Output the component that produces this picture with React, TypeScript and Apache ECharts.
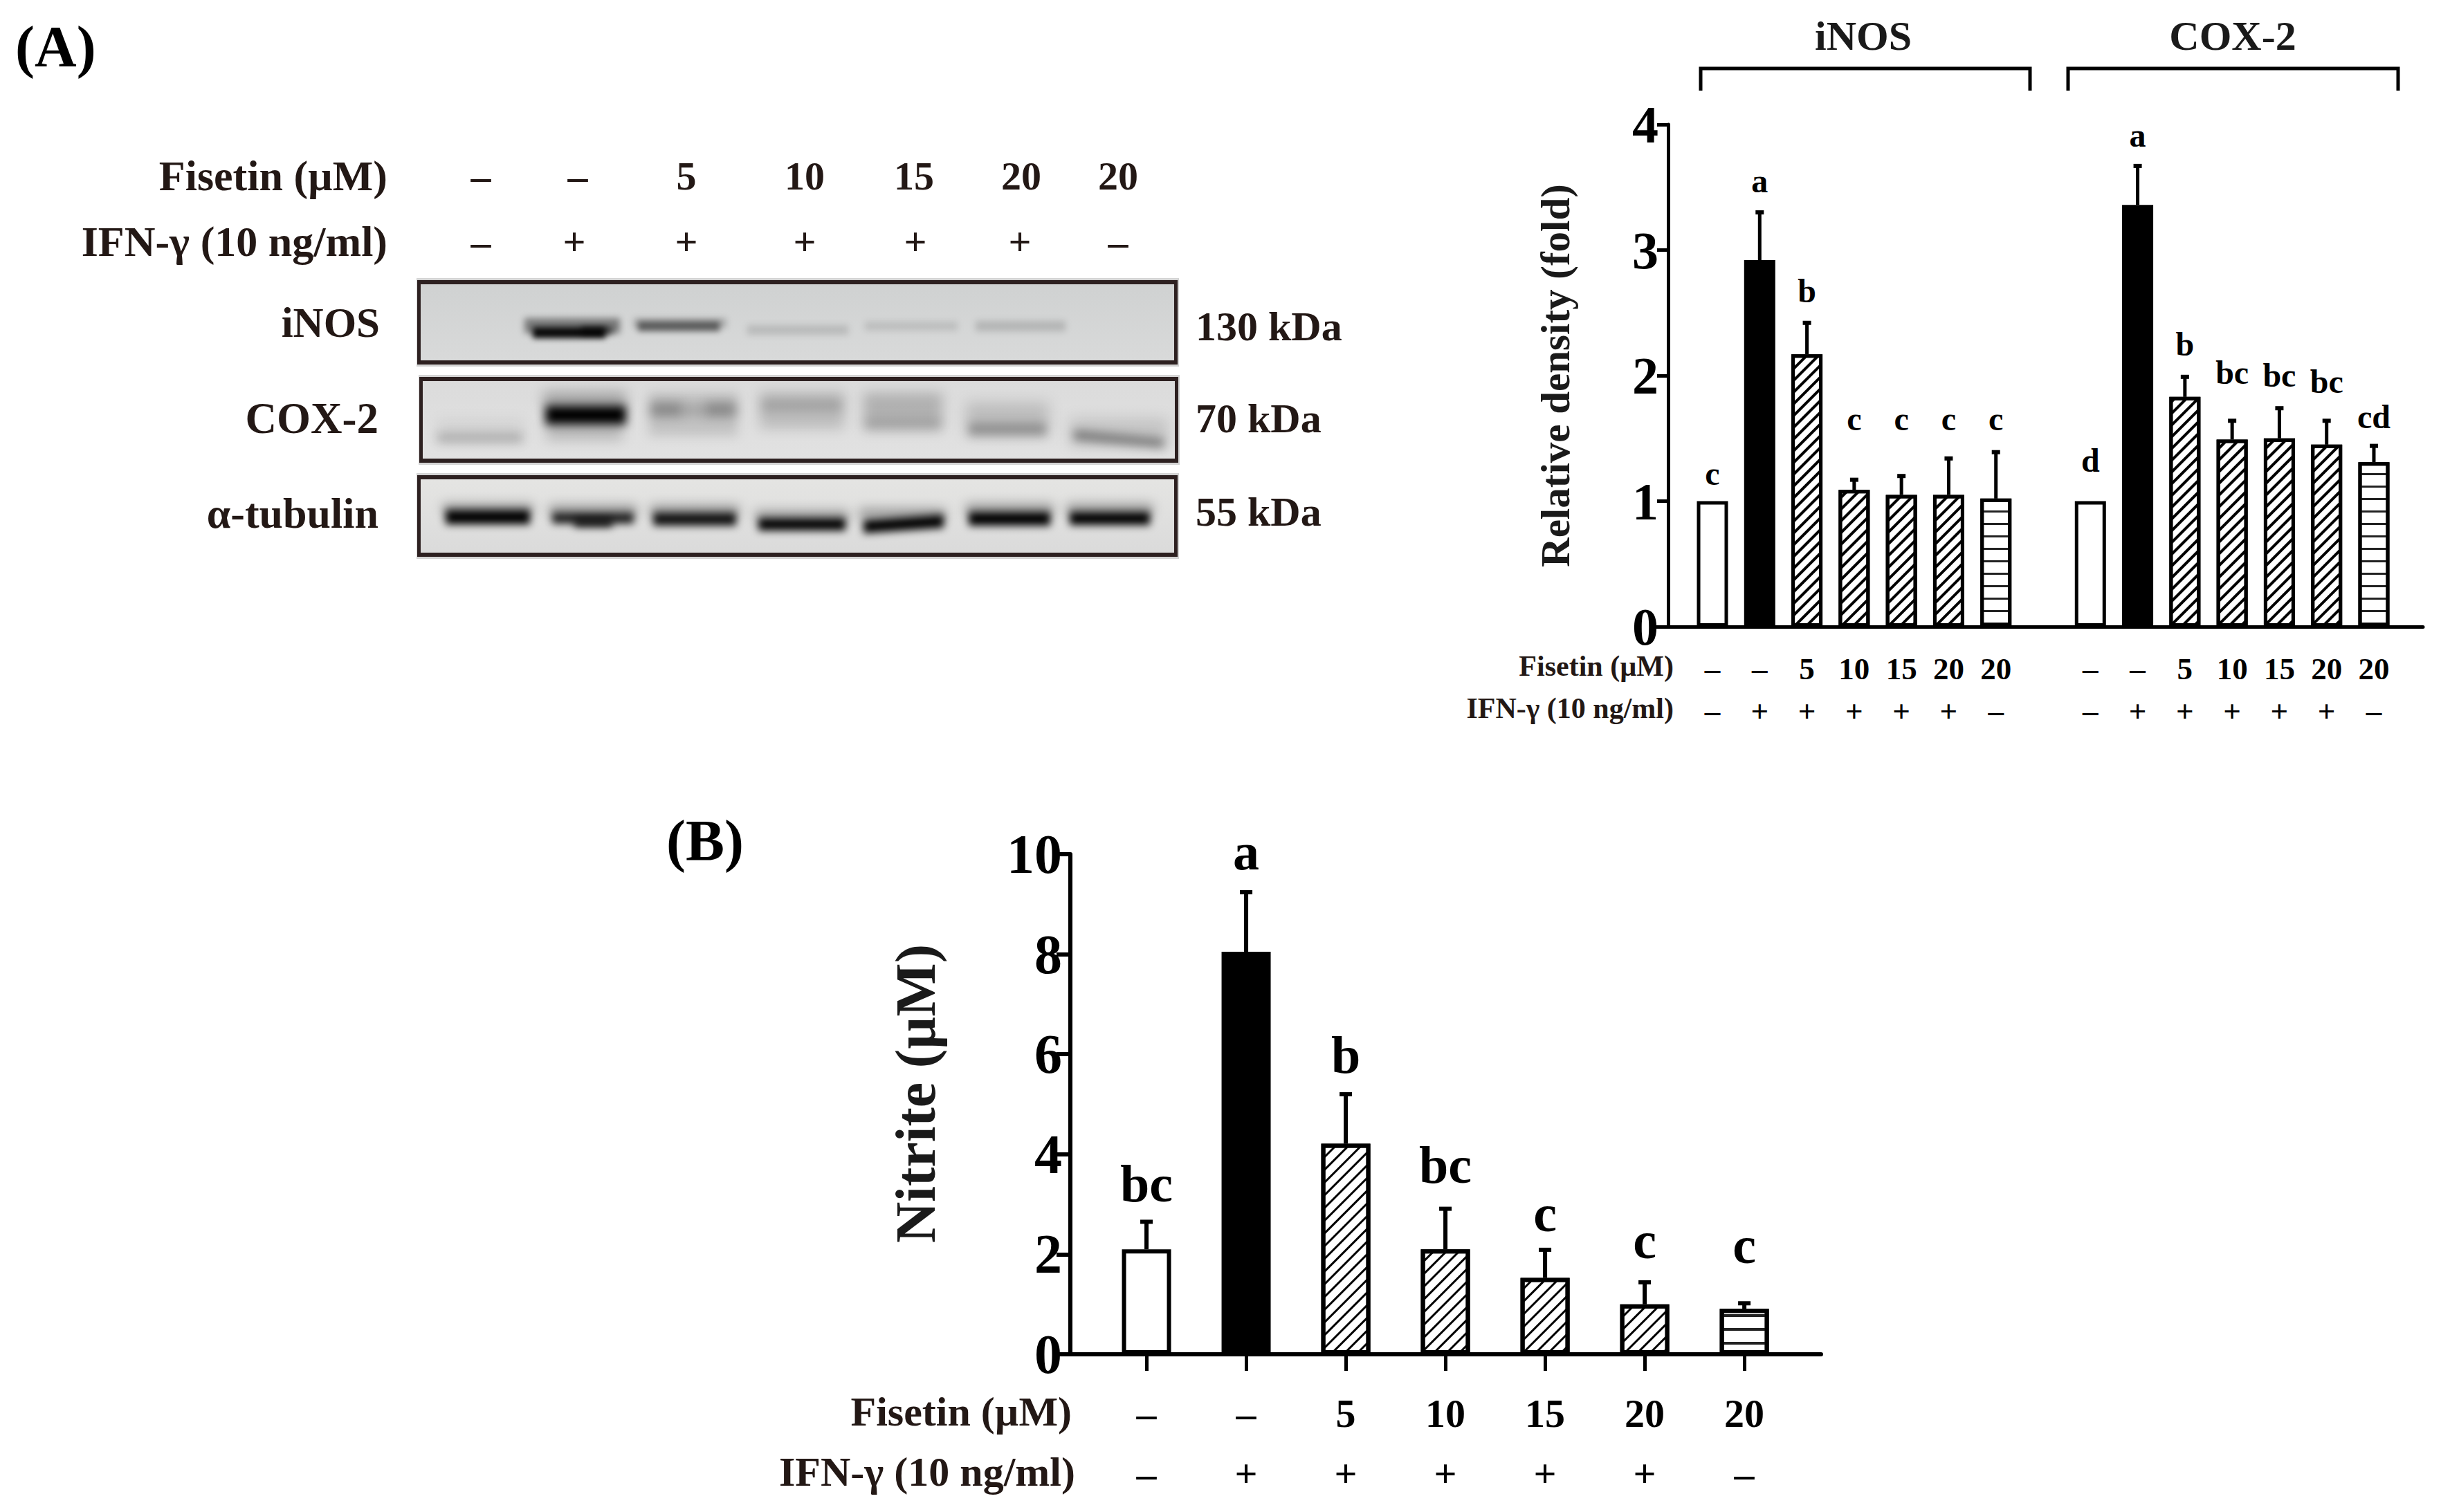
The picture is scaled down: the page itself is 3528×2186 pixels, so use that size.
import React, { useEffect, useRef } from "react";
import * as echarts from "echarts";

const FONT = '"Liberation Serif"';
const INK = "#000000";
const LABEL_INK = "#231815";

// ---------- data ----------
const fisetinRow = ["–", "–", "5", "10", "15", "20", "20"];
const ifnRow = ["–", "+", "+", "+", "+", "+", "–"];
const patterns = ["empty", "solid", "hatch", "hatch", "hatch", "hatch", "lines"];

const inosValues = [1, 2.92, 2.17, 1.09, 1.05, 1.05, 1.02];
const inosTops = [1, 3.3, 2.42, 1.17, 1.2, 1.34, 1.39];
const inosLetters = ["c", "a", "b", "c", "c", "c", "c"];
const inosLetterY = [1.19, 3.52, 2.64, 1.62, 1.62, 1.62, 1.62];

const coxValues = [1, 3.36, 1.83, 1.49, 1.5, 1.45, 1.31];
const coxTops = [1, 3.67, 1.99, 1.64, 1.74, 1.64, 1.44];
const coxLetters = ["d", "a", "b", "bc", "bc", "bc", "cd"];
const coxLetterY = [1.29, 3.88, 2.22, 1.99, 1.97, 1.92, 1.64];

const nitriteValues = [2.1, 8.05, 4.21, 2.1, 1.53, 1.0, 0.91];
const nitriteTops = [2.65, 9.24, 5.2, 2.91, 2.09, 1.44, 1.02];
const nitriteLetters = ["bc", "a", "b", "bc", "c", "c", "c"];
const nitriteLetterY = [3.34, 9.97, 5.9, 3.71, 2.74, 2.2, 2.1];

const densityX = [0, 1, 2, 3, 4, 5, 6, 8, 9, 10, 11, 12, 13, 14];
const densityValues = [...inosValues, ...coxValues];
const densityTops = [...inosTops, ...coxTops];
const densityLetters = [...inosLetters, ...coxLetters];
const densityLetterY = [...inosLetterY, ...coxLetterY];
const densityPatterns = [...patterns, ...patterns];
const densityFisetin = [...fisetinRow, ...fisetinRow];
const densityIfn = [...ifnRow, ...ifnRow];
const nitriteX = [0, 1, 2, 3, 4, 5, 6];

// ---------- blot layout (x0, x1, y0, y1, darkness, blur, slant) ----------
type Band = [number, number, number, number, number, number, number?];
const inosBands: Band[] = [
  [758, 896, 460, 482, 0.42, 5],
  [770, 875, 473, 489, 0.95, 4],
  [840, 885, 472, 484, 0.5, 4],
  [916, 1050, 460, 474, 0.2, 5],
  [922, 1040, 465, 479, 0.5, 4],
  [1080, 1226, 470, 484, 0.13, 5],
  [1250, 1384, 465, 478, 0.11, 5],
  [1410, 1540, 464, 479, 0.15, 5],
];
const coxBands: Band[] = [
  [632, 757, 606, 640, 0.05, 9],
  [632, 755, 626, 640, 0.18, 7],
  [785, 905, 566, 588, 0.25, 9],
  [788, 905, 586, 614, 1, 7],
  [790, 900, 612, 636, 0.18, 9],
  [938, 1066, 568, 630, 0.13, 8],
  [940, 985, 582, 602, 0.3, 8],
  [1020, 1064, 582, 602, 0.3, 8],
  [985, 1020, 586, 600, 0.16, 8],
  [1098, 1220, 566, 620, 0.15, 9],
  [1100, 1218, 578, 594, 0.15, 8],
  [1248, 1362, 568, 622, 0.2, 9],
  [1250, 1360, 606, 620, 0.1, 7],
  [1396, 1516, 582, 630, 0.15, 10],
  [1400, 1512, 612, 630, 0.25, 7],
  [1546, 1688, 605, 645, 0.12, 10],
  [1552, 1682, 628, 642, 0.38, 7, 12],
];
const tubulinBands: Band[] = [
  [640, 770, 728, 742, 0.3, 8],
  [644, 766, 737, 758, 1, 6],
  [794, 920, 730, 745, 0.3, 8],
  [798, 916, 741, 757, 0.85, 6],
  [830, 885, 750, 762, 0.85, 6],
  [940, 1068, 730, 745, 0.3, 8],
  [944, 1064, 741, 760, 0.92, 6],
  [1092, 1226, 738, 752, 0.3, 8],
  [1096, 1222, 749, 767, 1, 6],
  [1242, 1366, 735, 750, 0.3, 8],
  [1248, 1364, 748, 767, 1, 6, -8],
  [1396, 1522, 728, 744, 0.3, 8],
  [1400, 1518, 740, 760, 1, 6],
  [1542, 1666, 728, 744, 0.3, 8],
  [1546, 1662, 740, 759, 1, 6],
];
const panels: [number, number, number, number, string, string, Band[]][] = [
  [603, 405, 1099, 122, "#cfd1d1", "#d9dada", inosBands],
  [606, 545, 1097, 124, "#dbdbdb", "#e2e2e2", coxBands],
  [603, 687, 1099, 118, "#e5e5e3", "#dadada", tubulinBands],
];

function makeBlot(): string {
  const c = document.createElement("canvas");
  c.width = 1300;
  c.height = 600;
  const ctx = c.getContext("2d")!;
  const ox = 500;
  const oy = 300;
  for (const [x, y, w, h, bgTop, bgBottom, bands] of panels) {
    ctx.fillStyle = "#d4d4d4";
    ctx.fillRect(x - ox - 1, y - oy - 3, w + 3, h + 6);
    ctx.save();
    ctx.beginPath();
    ctx.rect(x - ox, y - oy, w, h);
    ctx.clip();
    const g = ctx.createLinearGradient(0, y - oy, 0, y - oy + h);
    g.addColorStop(0, bgTop);
    g.addColorStop(1, bgBottom);
    ctx.fillStyle = g;
    ctx.fillRect(x - ox, y - oy, w, h);
    for (const [x0, x1, y0, y1, dark, blur, slant] of bands) {
      const s = (slant ?? 0) / 2;
      ctx.filter = `blur(${blur}px)`;
      ctx.fillStyle = `rgba(0,0,0,${dark})`;
      ctx.beginPath();
      ctx.moveTo(x0 - ox, y0 - oy - s);
      ctx.lineTo(x1 - ox, y0 - oy + s);
      ctx.lineTo(x1 - ox, y1 - oy + s);
      ctx.lineTo(x0 - ox, y1 - oy - s);
      ctx.closePath();
      ctx.fill();
    }
    ctx.filter = "none";
    ctx.restore();
    ctx.fillStyle = "#2d2020";
    ctx.fillRect(x - ox, y - oy, w, 6);
    ctx.fillRect(x - ox, y + h - 6 - oy, w, 6);
    ctx.fillRect(x - ox, y - oy, 5, h);
    ctx.fillRect(x + w - 5 - ox, y - oy, 5, h);
  }
  return c.toDataURL("image/png");
}

function decalFor(kind: string, hatch: number[], lines: number[]) {
  if (kind === "hatch") {
    return {
      symbol: "rect",
      symbolSize: 1,
      color: INK,
      backgroundColor: "#fff",
      dashArrayX: [1, 0],
      dashArrayY: hatch,
      rotation: -Math.PI / 4,
    };
  }
  return {
    symbol: "rect",
    symbolSize: 1,
    color: "#222",
    backgroundColor: "#fff",
    dashArrayX: [1, 0],
    dashArrayY: lines,
    rotation: 0,
  };
}

function barData(xs: number[], values: number[], kinds: string[], hatch: number[], lines: number[]) {
  return xs.map((x, i) => {
    const kind = kinds[i];
    if (kind === "solid") return { value: [x, values[i]], itemStyle: { color: INK } };
    if (kind === "empty") return { value: [x, values[i]], itemStyle: { color: "#fff" } };
    return { value: [x, values[i]], itemStyle: { color: "#fff", decal: decalFor(kind, hatch, lines) } };
  });
}

function errorRender(capHalf: number, lw: number, capW: number) {
  return (_p: any, api: any) => {
    const x = api.value(0);
    const base = api.coord([x, api.value(1)]);
    const top = api.coord([x, api.value(2)]);
    return {
      type: "group",
      children: [
        { type: "line", shape: { x1: base[0], y1: base[1], x2: top[0], y2: top[1] }, style: { stroke: INK, lineWidth: lw } },
        { type: "line", shape: { x1: top[0] - capHalf, y1: top[1], x2: top[0] + capHalf, y2: top[1] }, style: { stroke: INK, lineWidth: capW } },
      ],
    };
  };
}

function txt(text: string, x: number, y: number, size: number, align = "center", fill = LABEL_INK, rotation = 0) {
  return {
    type: "text",
    x,
    y,
    rotation,
    style: { text, fill, align, verticalAlign: "middle", font: `bold ${size}px ${FONT}` },
  };
}

function bracket(x0: number, x1: number) {
  return {
    type: "polyline",
    shape: { points: [[x0, 131], [x0, 99], [x1, 99], [x1, 131]] },
    style: { stroke: INK, lineWidth: 5, fill: "none" },
  };
}

function rowAxis(gridIndex: number, min: number, max: number, xs: number[], row: string[], size: number, margin: number, offset: number) {
  return {
    type: "value",
    gridIndex,
    min,
    max,
    position: "bottom",
    offset,
    splitLine: { show: false },
    axisLine: { show: false },
    axisTick: { show: false },
    axisLabel: {
      show: true,
      customValues: xs,
      margin,
      formatter: (v: number) => row[xs.indexOf(v)] ?? "",
      fontFamily: FONT,
      fontWeight: "bold",
      fontSize: size,
      color: INK,
    },
  };
}

function yAxis(gridIndex: number, max: number, interval: number, size: number, name: string, nameSize: number, nameGap: number, offset: number, lw: number, tickLen: number, margin: number) {
  return {
    type: "value",
    gridIndex,
    min: 0,
    max,
    interval,
    offset,
    name,
    nameLocation: "middle",
    nameGap,
    nameTextStyle: { fontFamily: FONT, fontWeight: "bold", fontSize: nameSize, color: "#1a1a1a" },
    splitLine: { show: false },
    axisLine: { show: true, onZero: false, lineStyle: { color: INK, width: lw } },
    axisTick: { show: true, length: tickLen, lineStyle: { color: INK, width: lw } },
    axisLabel: { margin, fontFamily: FONT, fontWeight: "bold", fontSize: size, color: INK },
  };
}

function letterLabel(size: number) {
  return {
    show: true,
    position: "inside",
    offset: [0, -6],
    opacity: 1,
    formatter: (p: any) => p.value[2],
    fontFamily: FONT,
    fontWeight: "bold",
    fontSize: size,
    color: INK,
    textBorderWidth: 0,
    textBorderColor: "transparent",
  };
}

export default function App() {
  const ref = useRef<HTMLDivElement>(null);
  useEffect(() => {
    document.body.style.margin = "0";
    const chart = echarts.init(ref.current!, undefined, { renderer: "svg" });
    const aMin = -1.245;
    const aMax = 15.04;
    const bMin = -0.903;
    const bMax = 6.77;
    chart.setOption({
      animation: false,
      backgroundColor: "#fff",
      grid: [
        { left: 2390, top: 180, width: 1112, height: 726 },
        { left: 1527, top: 1235, width: 1105, height: 723 },
      ],
      xAxis: [
        {
          ...rowAxis(0, aMin, aMax, densityX, densityFisetin, 45, 38, 0),
          axisLine: { show: true, onZero: false, lineStyle: { color: INK, width: 5 } },
        },
        rowAxis(0, aMin, aMax, densityX, densityIfn, 45, 38, 61),
        {
          ...rowAxis(1, bMin, bMax, nitriteX, fisetinRow, 58, 56, 0),
          axisLine: { show: true, onZero: false, lineStyle: { color: INK, width: 6 } },
          axisTick: { show: true, customValues: nitriteX, length: 24, lineStyle: { color: INK, width: 5 } },
        },
        rowAxis(1, bMin, bMax, nitriteX, ifnRow, 58, 56, 87),
      ],
      yAxis: [
        yAxis(0, 4, 1, 76, "Relative density (fold)", 59, 134, -21, 5, 16, 14),
        yAxis(1, 10, 2, 80, "", 78, 190, -20, 6, 20, 12),
      ],
      series: [
        {
          type: "bar",
          xAxisIndex: 0,
          yAxisIndex: 0,
          barWidth: 45,
          data: barData(densityX, densityValues, densityPatterns, [4, 7.5], [3, 15]),
          itemStyle: { borderColor: INK, borderWidth: 5 },
        },
        {
          type: "custom",
          xAxisIndex: 0,
          yAxisIndex: 0,
          data: densityX.map((x, i) => [x, densityValues[i], densityTops[i]]).filter((d) => d[2] > d[1]),
          renderItem: errorRender(6, 5, 6),
        },
        {
          type: "scatter",
          xAxisIndex: 0,
          yAxisIndex: 0,
          symbolSize: 1,
          itemStyle: { color: "transparent", opacity: 1 },
          data: densityX.map((x, i) => [x, densityLetterY[i], densityLetters[i]]),
          label: letterLabel(48),
        },
        {
          type: "bar",
          xAxisIndex: 2,
          yAxisIndex: 1,
          barWidth: 71,
          data: barData(nitriteX, nitriteValues, patterns, [3, 10], [4, 16]),
          itemStyle: { borderColor: INK, borderWidth: 6 },
        },
        {
          type: "custom",
          xAxisIndex: 2,
          yAxisIndex: 1,
          data: nitriteX.map((x, i) => [x, nitriteValues[i], nitriteTops[i]]),
          renderItem: errorRender(9, 6, 6),
        },
        {
          type: "scatter",
          xAxisIndex: 2,
          yAxisIndex: 1,
          symbolSize: 1,
          itemStyle: { color: "transparent", opacity: 1 },
          data: nitriteX.map((x, i) => [x, nitriteLetterY[i], nitriteLetters[i]]),
          label: letterLabel(76),
        },
      ],
      graphic: [
        { type: "image", x: 500, y: 300, style: { image: makeBlot(), x: 0, y: 0, width: 1300, height: 600 } },
        txt("(A)", 22, 67, 84, "left", INK),
        txt("(B)", 963, 1215, 84, "left", INK),
        txt("Fisetin (µM)", 560, 254, 62, "right"),
        txt("IFN-γ (10 ng/ml)", 560, 349, 62, "right"),
        ...fisetinRow.map((t, i) => txt(t, [695, 835, 992, 1163, 1321, 1476, 1616][i], 254, 58)),
        ...ifnRow.map((t, i) => txt(t, [695, 830, 992, 1163, 1323, 1474, 1616][i], 349, 58)),
        txt("iNOS", 549, 466, 61, "right"),
        txt("COX-2", 547, 605, 63, "right"),
        txt("α-tubulin", 547, 742, 62, "right"),
        txt("130 kDa", 1728, 472, 60, "left"),
        txt("70 kDa", 1728, 605, 60, "left"),
        txt("55 kDa", 1728, 740, 60, "left"),
        txt("iNOS", 2693, 52, 60, "center", "#1a1a1a"),
        txt("COX-2", 3227, 52, 60, "center", "#1a1a1a"),
        bracket(2458, 2934),
        bracket(2989, 3466),
        txt("Fisetin (µM)", 2419, 963, 42, "right"),
        txt("IFN-γ (10 ng/ml)", 2419, 1024, 42, "right"),
        txt("Fisetin (µM)", 1549, 2041, 60, "right"),
        txt("IFN-γ (10 ng/ml)", 1554, 2128, 60, "right"),
        txt("Nitrite (µM)", 1323, 1581, 82, "center", "#1a1a1a", Math.PI / 2),
      ],
    });
    return () => chart.dispose();
  }, []);
  return <div ref={ref} style={{ position: "absolute", left: 0, top: 0, width: 3528, height: 2186 }} />;
}
